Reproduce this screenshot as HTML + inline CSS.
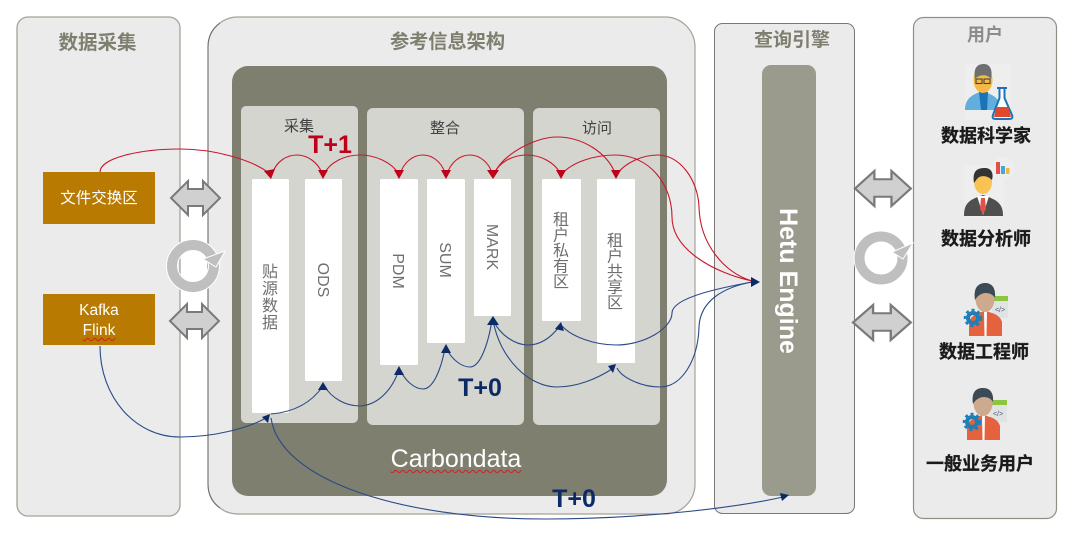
<!DOCTYPE html>
<html lang="zh">
<head>
<meta charset="utf-8">
<title>参考信息架构</title>
<style>
html,body{margin:0;padding:0;background:#fff;width:1080px;height:533px;overflow:hidden}
#w{position:relative;width:1080px;height:533px;font-family:"Liberation Sans","Noto Sans CJK SC",sans-serif}
svg{position:absolute;left:0;top:0}
svg text{font-family:"Liberation Sans","Noto Sans CJK SC",sans-serif}
.u{position:absolute;color:#fff;text-align:center;white-space:nowrap;text-decoration:underline wavy #d02020 1px;text-underline-offset:2px}
</style>
</head>
<body>
<div id="w">
<svg width="1080" height="533" viewBox="0 0 1080 533" xmlns="http://www.w3.org/2000/svg">
<defs>
<g id="da"><path d="M0,17L17,0V8H32V0L49,17L32,34V25H17V34Z" fill="#d0d0d0" stroke="#7a7a7a" stroke-width="2"/></g>
</defs>

<!-- panels -->
<rect x="17" y="17" width="163" height="499" rx="11" fill="#ebebeb" stroke="#a3a398" stroke-width="1.300"/>
<rect x="208" y="17" width="487" height="497" rx="30" fill="#ebebeb" stroke="#a3a398" stroke-width="1.200"/>
<path d="M220,23Q208,31 208,47V484Q208,500 220,508" fill="none" stroke="#6f6f6f" stroke-width="1"/>
<rect x="714.500" y="23.500" width="140" height="490" rx="8" fill="#ebebeb" stroke="#777" stroke-width="1"/>
<rect x="913.500" y="17.500" width="143" height="501" rx="10" fill="#ebebeb" stroke="#908f85" stroke-width="1.200"/>

<rect x="232" y="66" width="435" height="430" rx="16" fill="#7f7f6f"/>
<rect x="241" y="106" width="117" height="317" rx="5" fill="#d4d5cf"/>
<rect x="367" y="108" width="157" height="317" rx="6" fill="#d4d5cf"/>
<rect x="533" y="108" width="127" height="317" rx="6" fill="#d4d5cf"/>

<rect x="762" y="65" width="54" height="431" rx="9" fill="#9b9b8d"/>

<!-- white bars -->
<g fill="#fff">
<rect x="252" y="179" width="37" height="234" rx="1.500"/>
<rect x="305" y="179" width="37" height="202" rx="1.500"/>
<rect x="380" y="179" width="38" height="186" rx="1.500"/>
<rect x="427" y="179" width="38" height="164" rx="1.500"/>
<rect x="474" y="179" width="37" height="137" rx="1.500"/>
<rect x="542" y="179" width="39" height="142" rx="1.500"/>
<rect x="597" y="179" width="38" height="184" rx="1.500"/>
</g>

<!-- orange -->
<rect x="43" y="172" width="112" height="52" fill="#b87a00"/>
<rect x="43" y="294" width="112" height="51" fill="#b87a00"/>

<!-- double arrows -->
<use href="#da" x="171" y="181"/>
<use href="#da" x="170" y="304"/>
<g transform="translate(855,171) scale(1.140,1.030)"><use href="#da"/></g>
<g transform="translate(853,305) scale(1.180,1.030)"><use href="#da"/></g>

<!-- cycle icons -->
<circle cx="193" cy="266" r="21" fill="none" stroke="#fff" stroke-width="12"/>
<circle cx="193" cy="266" r="21" fill="none" stroke="#bfbfbf" stroke-width="10"/>
<path d="M203,259L225,251L216,267Z" fill="#bfbfbf" stroke="#fff" stroke-width="1"/>
<circle cx="881" cy="258" r="21.500" fill="none" stroke="#fff" stroke-width="12"/>
<circle cx="881" cy="258" r="21.500" fill="none" stroke="#bfbfbf" stroke-width="10"/>
<path d="M892,252L913,243L903,259Z" fill="#bfbfbf" stroke="#fff" stroke-width="1"/>

<!-- labels in panels -->
<g text-anchor="middle">
<text x="97.500" y="49" font-size="19.500" font-weight="700" fill="#7f7f6f">数据采集</text>
<text x="447.500" y="48" font-size="19.200" font-weight="700" fill="#7f7f6f">参考信息架构</text>
<text x="792" y="46" font-size="19" font-weight="700" fill="#7f7f6f">查询引擎</text>
<text x="985" y="41" font-size="18" font-weight="700" fill="#8c8c8c">用户</text>
<text x="299" y="131" font-size="15" fill="#404040">采集</text>
<text x="445" y="133" font-size="15" fill="#404040">整合</text>
<text x="597" y="133" font-size="15" fill="#404040">访问</text>
<text x="99" y="203" font-size="15.500" fill="#fff">文件交换区</text>
<text x="330" y="153" font-size="25" font-weight="700" fill="#c00018">T+1</text>
<text x="480" y="396" font-size="25" font-weight="700" fill="#0b2a66">T+0</text>
<text x="574" y="507" font-size="25" font-weight="700" fill="#0b2a66">T+0</text>

<g font-size="16" fill="#6f6f6f">
<text x="270" y="277">贴<tspan x="270" dy="17">源</tspan><tspan x="270" dy="17">数</tspan><tspan x="270" dy="17">据</tspan></text>
<text x="561" y="225">租<tspan x="561" dy="15.500">户</tspan><tspan x="561" dy="15.500">私</tspan><tspan x="561" dy="15.500">有</tspan><tspan x="561" dy="15.500">区</tspan></text>
<text x="615" y="246">租<tspan x="615" dy="15.500">户</tspan><tspan x="615" dy="15.500">共</tspan><tspan x="615" dy="15.500">享</tspan><tspan x="615" dy="15.500">区</tspan></text>
</g>
<g font-size="16" fill="#6f6f6f">
<text transform="translate(318,280) rotate(90)">ODS</text>
<text transform="translate(393,271) rotate(90)">PDM</text>
<text transform="translate(440,260) rotate(90)">SUM</text>
<text transform="translate(487,247) rotate(90)">MARK</text>
</g>
<text transform="translate(780,281) rotate(90)" font-size="25" font-weight="700" fill="#fff">Hetu Engine</text>

<g font-size="18" font-weight="700" fill="#1a1a1a" stroke="#1a1a1a" stroke-width="0.300">
<text x="986" y="142">数据科学家</text>
<text x="986" y="245">数据分析师</text>
<text x="984" y="358">数据工程师</text>
<text x="980" y="470">一般业务用户</text>
</g>
</g>

<!-- scientist -->
<rect x="965" y="64" width="46" height="56" fill="#eee"/>
<path d="M965,110C965,98 973,94 983,91C990,94 995,96 998,100L995,110Z" fill="#62aedd"/>
<path d="M979,92L981,110H987L988,92Z" fill="#1a74b8"/>
<ellipse cx="983" cy="80" rx="9.500" ry="13" fill="#f5b945"/>
<path d="M975,79C973,67 978,64 984,64C990,64 993,70 991,79C988,74 979,74 975,79Z" fill="#6f6f6f"/>
<g fill="none" stroke="#444" stroke-width="1.100"><rect x="976" y="79" width="6" height="4.500"/><rect x="984" y="79" width="6" height="4.500"/></g>
<path d="M997,88H1007M999.500,88V98L993,115C992,118 993,119 996,119H1009C1012,119 1013,118 1012,115L1004.500,98V88" fill="#fff" stroke="#1a74b8" stroke-width="2"/>
<path d="M996.500,107H1008.500L1011,117H994Z" fill="#e0492e"/>

<!-- analyst -->
<circle cx="1003" cy="168" r="11" fill="#eee"/>
<rect x="964" y="165" width="40" height="52" fill="#eee"/>
<path d="M964,216C964,204 968,200 983,195C998,200 1003,204 1003,216Z" fill="#4f4f4f"/>
<path d="M977,196L983,215L989,196Z" fill="#fff"/>
<path d="M981,198H985L986,209L983,214L980,209Z" fill="#e2504a"/>
<ellipse cx="983" cy="182" rx="9" ry="12" fill="#f9c254"/>
<path d="M974,183C972,170 978,168 985,168C991,168 994,173 992,180C987,175 980,175 977,179Z" fill="#333"/>
<rect x="996" y="162" width="4" height="12" fill="#e2504a"/>
<rect x="1001" y="166" width="4" height="8" fill="#4aa3df"/>
<rect x="1006" y="168" width="3.500" height="6" fill="#f0b83c"/>

<!-- engineer -->
<rect x="992" y="296" width="16" height="22" fill="#dfe3e6"/>
<rect x="992" y="296" width="16" height="5" fill="#8cc63f"/>
<text x="1000" y="312" font-size="7" text-anchor="middle" fill="#556">&lt;/&gt;</text>
<path d="M969,336V322C971,315 978,313 985,311C993,313 1000,315 1002,322V336Z" fill="#e5623f"/>
<path d="M984,311H987L986.500,336H984.500Z" fill="#fff"/>
<ellipse cx="985" cy="299" rx="9.500" ry="13" fill="#cdaa8e"/>
<path d="M975,300C973,287 979,283 985,283C992,283 996,288 995,298C991,291 980,291 975,300Z" fill="#3b4a55"/>
<circle cx="973" cy="318" r="5" fill="none" stroke="#1e7fb8" stroke-width="4"/>
<circle cx="973" cy="318" r="8" fill="none" stroke="#1e7fb8" stroke-width="2.500" stroke-dasharray="3 3"/>

<!-- general user -->
<rect x="990" y="400" width="17" height="22" fill="#dfe3e6"/>
<rect x="990" y="400" width="17" height="5" fill="#8cc63f"/>
<text x="998" y="416" font-size="7" text-anchor="middle" fill="#556">&lt;/&gt;</text>
<path d="M967,440V426C969,419 976,417 983,415C991,417 998,419 1000,426V440Z" fill="#e5623f"/>
<path d="M982,415H985L984.500,440H982.500Z" fill="#fff"/>
<ellipse cx="983" cy="403" rx="9.500" ry="13" fill="#cdaa8e"/>
<path d="M973,404C971,391 977,388 983,388C990,388 994,393 993,402C989,395 978,395 973,404Z" fill="#3b4a55"/>
<circle cx="972" cy="422" r="5" fill="none" stroke="#1e7fb8" stroke-width="4"/>
<circle cx="972" cy="422" r="8" fill="none" stroke="#1e7fb8" stroke-width="2.500" stroke-dasharray="3 3"/>

<!-- red connectors -->
<g fill="none" stroke="#c8182c" stroke-width="1.100">
<path d="M100,172C100,158 140,149 180,149C215,149 252,160 269,173"/>
<path d="M272,174C276,162 286,155 297,155C308,155 318,163 322,173"/>
<path d="M324,174C330,162 345,155 360,155C376,155 392,163 398,173"/>
<path d="M400,174C404,162 413,155 423,155C433,155 442,163 445,173"/>
<path d="M447,174C451,162 460,155 470,155C480,155 489,163 492,173"/>
<path d="M494,174C499,162 513,155 527,155C541,155 555,163 560,173"/>
<path d="M494,174C503,154 535,137 557,137C583,137 607,153 615,173"/>
<path d="M562,174C572,162 595,155 615,155C650,155 672,185 672,217C672,250 715,273 752,281"/>
<path d="M617,174C625,163 642,155 658,155C680,155 698,180 699,207C700,245 725,273 752,281"/>
</g>
<g fill="#c00018">
<path d="M271,179L264,171L275,169Z"/>
<path d="M323,179L318,170L328,170Z"/>
<path d="M399,179L394,170L404,170Z"/>
<path d="M446,179L441,170L451,170Z"/>
<path d="M493,179L487,170L499,170Z"/>
<path d="M561,179L556,170L566,170Z"/>
<path d="M616,179L611,170L621,170Z"/>
</g>

<!-- blue connectors -->
<g fill="none" stroke="#2b4a85" stroke-width="1.100">
<path d="M100,346C100,397 135,437 180,437C215,437 248,428 266,418"/>
<path d="M271,414C295,412 312,402 323,386"/>
<path d="M324,386C332,398 345,406 360,406C378,405 392,390 399,370"/>
<path d="M400,370C405,380 414,389 423,389C433,389 441,370 445,348"/>
<path d="M446,348C452,360 462,367 470,367C480,367 488,345 492,320"/>
<path d="M493,320C500,335 515,345 528,345C542,345 552,336 559,327"/>
<path d="M493,320C500,360 530,387 557,387C578,387 598,378 612,369"/>
<path d="M562,326C572,337 595,345 616,345C645,345 672,328 672,313C672,297 725,287 752,282"/>
<path d="M617,368C622,378 642,387 660,387C682,387 698,360 699,327C700,300 725,287 752,282"/>
<path d="M271,418C280,480 400,519 545,519C640,519 735,508 783,497"/>
</g>
<g fill="#0b2a66">
<path d="M270,414L262,417L268,423Z"/>
<path d="M323,382L318,390L328,390Z"/>
<path d="M399,366L394,375L404,375Z"/>
<path d="M446,344L441,353L451,353Z"/>
<path d="M493,316L487,325L499,325Z"/>
<path d="M561,322L555,329L564,331Z"/>
<path d="M616,364L608,366L613,373Z"/>
<path d="M760,282L751,277L751,287Z"/>
<path d="M789,495L780,493L782,501Z"/>
</g>
</svg>

<div class="u" style="left:43px;width:112px;top:301px;font-size:15.500px;line-height:19px;text-decoration:none">Kafka</div>
<div class="u" style="left:78px;width:42px;top:321px;font-size:15.500px;line-height:19px">Flink</div>
<div class="u" style="left:386px;width:140px;top:445px;font-size:25px;line-height:28px">Carbondata</div>
</div>
</body>
</html>
